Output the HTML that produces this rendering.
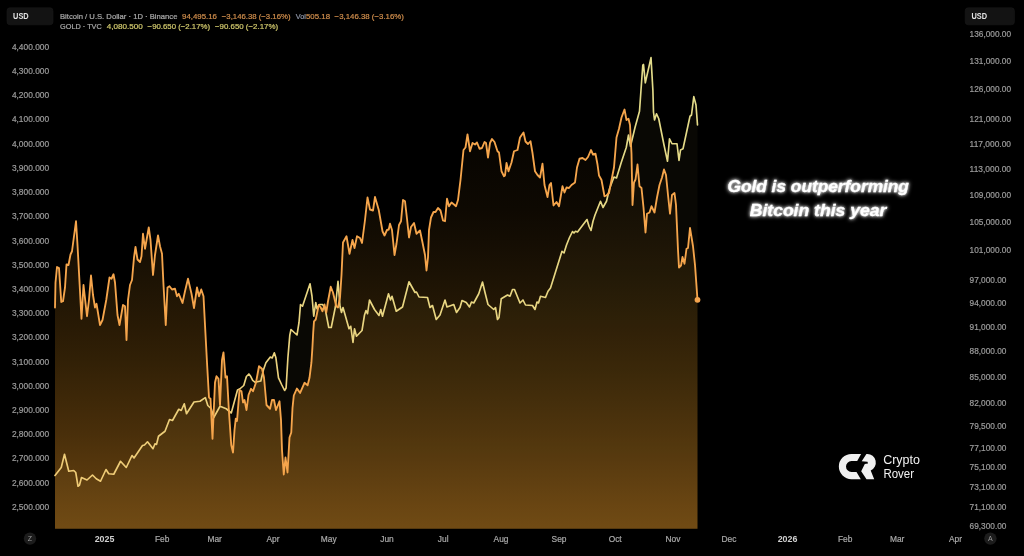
<!DOCTYPE html>
<html lang="en">
<head>
<meta charset="utf-8">
<title>Gold vs Bitcoin chart</title>
<style>
html,body{margin:0;padding:0;background:#000;}
body{width:1024px;height:556px;overflow:hidden;position:relative;font-family:"Liberation Sans", sans-serif;}
svg{position:absolute;left:0;top:0;display:block;filter:blur(0.45px);}
text{font-family:"Liberation Sans", sans-serif;}
.ax{font-size:8.3px;fill:#9c9c9c;stroke:#9c9c9c;stroke-width:0.2px;}
.mo{font-size:8.4px;fill:#a9a9a9;stroke:#a9a9a9;stroke-width:0.2px;text-anchor:middle;}
.yr{font-size:8.9px;fill:#d0d0d0;font-weight:bold;text-anchor:middle;}
.hd{font-size:8px;}
.note{font-size:17.3px;font-weight:bold;font-style:italic;fill:#fff;stroke:#fff;stroke-width:0.3px;stroke-linejoin:round;text-anchor:middle;}
.logo{font-size:12px;fill:#f2f2f2;}
</style>
</head>
<body>
<svg width="1024" height="556" viewBox="0 0 1024 556">
<defs>
<linearGradient id="gO" gradientUnits="userSpaceOnUse" x1="0" y1="60" x2="0" y2="528.8">
<stop offset="0.0000" stop-color="rgb(2,1,0)"/>
<stop offset="0.1920" stop-color="rgb(8,5,1)"/>
<stop offset="0.3200" stop-color="rgb(14,9,2)"/>
<stop offset="0.3840" stop-color="rgb(20,13,3)"/>
<stop offset="0.4544" stop-color="rgb(27,18,4)"/>
<stop offset="0.5823" stop-color="rgb(42,27,5)"/>
<stop offset="0.6399" stop-color="rgb(49,32,6)"/>
<stop offset="0.7914" stop-color="rgb(72,46,10)"/>
<stop offset="1.0000" stop-color="rgb(109,70,17)"/>
</linearGradient>
<linearGradient id="gYL" gradientUnits="userSpaceOnUse" x1="0" y1="60" x2="0" y2="480">
<stop offset="0" stop-color="#e2dc8a"/>
<stop offset="0.57" stop-color="#e8d682"/>
<stop offset="1" stop-color="#efcb76"/>
</linearGradient>
<filter id="glow" x="-20%" y="-60%" width="140%" height="220%">
<feGaussianBlur in="SourceGraphic" stdDeviation="2.3" result="b"/>
<feGaussianBlur in="SourceGraphic" stdDeviation="1" result="c0"/>
<feComponentTransfer in="c0" result="c"><feFuncA type="linear" slope="0.55"/></feComponentTransfer>
<feMerge><feMergeNode in="b"/><feMergeNode in="c"/><feMergeNode in="SourceGraphic"/></feMerge>
</filter>
</defs>
<rect width="1024" height="556" fill="#000"/>
<path d="M55.00,307.50 L55.50,282.50 L57.00,267.00 L59.00,268.00 L61.25,302.00 L63.00,301.25 L65.00,287.50 L66.50,264.50 L68.50,265.00 L70.50,254.50 L72.00,251.25 L76.00,221.25 L77.50,245.00 L81.50,318.75 L83.50,285.00 L87.00,316.25 L89.00,300.00 L91.00,275.50 L93.00,295.00 L95.00,307.50 L96.50,303.75 L100.00,325.00 L102.50,320.00 L106.25,300.00 L109.50,277.50 L111.50,278.75 L113.50,274.25 L115.00,282.50 L117.50,315.00 L119.50,325.00 L123.00,305.00 L125.00,306.25 L126.50,340.00 L128.00,300.00 L130.00,285.00 L132.00,280.00 L134.00,257.50 L135.50,247.00 L137.50,259.50 L140.00,262.00 L141.50,256.25 L143.00,233.75 L145.00,248.75 L148.75,227.50 L150.50,240.00 L153.00,275.00 L155.00,255.00 L158.00,235.50 L160.00,246.25 L162.00,253.75 L163.50,285.00 L165.75,325.00 L167.50,287.50 L169.50,286.25 L172.00,289.50 L175.00,288.75 L177.00,296.25 L178.75,293.75 L182.50,303.00 L185.00,291.25 L188.00,278.75 L191.50,293.75 L194.00,308.00 L197.00,287.50 L199.00,296.25 L201.25,289.50 L203.50,296.25 L205.00,325.00 L207.00,362.50 L209.00,397.50 L210.50,398.75 L212.50,438.75 L215.00,382.50 L216.50,376.25 L218.50,378.75 L220.00,405.00 L222.00,360.00 L223.50,352.50 L225.50,377.50 L227.00,376.25 L229.00,412.50 L231.25,445.00 L233.00,452.50 L234.50,430.00 L235.75,418.75 L237.00,421.00 L239.50,390.00 L241.50,391.25 L243.00,402.50 L244.50,400.00 L246.50,410.00 L248.50,395.00 L251.00,388.75 L253.00,391.25 L256.00,382.50 L259.00,366.25 L262.00,368.75 L264.00,377.50 L266.50,405.00 L270.00,408.75 L272.00,400.00 L274.00,400.00 L276.00,410.00 L279.50,401.25 L281.00,420.00 L282.00,450.00 L283.75,474.50 L285.50,457.50 L287.50,472.50 L289.50,437.50 L291.25,432.50 L292.50,408.00 L293.80,395.50 L296.90,388.50 L300.10,392.90 L304.50,382.80 L307.60,385.30 L309.50,377.80 L311.40,362.70 L312.40,347.60 L313.20,332.60 L314.00,321.30 L315.75,319.50 L318.75,305.00 L320.50,307.00 L322.50,311.25 L324.50,304.50 L326.25,312.50 L328.00,301.25 L330.75,286.75 L333.00,292.50 L336.25,306.25 L338.00,307.50 L340.00,297.50 L341.50,275.00 L343.00,242.50 L346.50,236.25 L349.50,253.75 L352.50,240.00 L354.50,248.00 L357.00,236.25 L360.00,238.00 L362.00,243.00 L365.00,220.00 L367.50,197.50 L370.00,209.50 L373.00,210.50 L375.00,197.00 L378.75,210.00 L382.50,231.25 L384.50,235.50 L387.00,230.00 L388.75,229.50 L390.00,223.75 L392.00,230.00 L394.50,255.00 L396.50,243.75 L399.00,225.00 L401.00,221.25 L403.00,200.00 L405.00,201.25 L407.00,218.75 L409.00,237.50 L411.00,227.00 L414.00,223.00 L416.50,233.75 L420.00,230.50 L422.50,242.50 L425.00,255.00 L426.50,270.50 L428.00,257.50 L429.00,230.00 L431.00,217.50 L433.50,212.00 L435.50,212.00 L438.00,208.00 L440.50,210.50 L443.00,220.50 L445.00,221.25 L447.00,198.75 L449.00,206.25 L451.50,202.50 L454.00,204.50 L456.00,206.25 L458.00,200.00 L460.50,180.00 L463.50,150.00 L465.50,147.50 L467.50,134.50 L470.00,151.25 L472.50,143.00 L475.00,144.50 L477.00,142.50 L479.50,148.75 L482.00,148.00 L484.50,142.00 L486.00,143.00 L488.00,157.50 L490.00,143.00 L492.00,139.00 L494.50,142.00 L497.50,151.25 L499.00,152.50 L501.50,171.25 L504.00,176.25 L505.00,175.50 L506.50,163.00 L508.50,171.25 L511.50,162.50 L514.00,151.25 L517.50,150.00 L520.00,137.50 L523.50,132.50 L525.50,141.50 L528.00,144.00 L530.50,141.25 L532.50,153.00 L535.00,171.25 L537.50,175.00 L540.00,177.50 L542.50,163.75 L544.50,185.00 L547.50,197.00 L549.50,185.00 L551.00,183.00 L553.50,205.50 L556.50,202.00 L559.00,206.25 L562.50,186.25 L564.50,192.50 L566.50,187.50 L569.00,188.00 L571.50,185.00 L575.00,182.50 L577.00,167.50 L579.50,158.75 L582.50,158.00 L585.50,160.00 L588.00,157.00 L591.00,150.00 L593.00,154.50 L595.50,153.75 L597.50,164.50 L599.00,175.50 L601.50,180.00 L604.50,196.25 L606.50,195.50 L609.00,193.00 L611.50,180.00 L614.00,167.50 L616.50,137.50 L619.00,128.75 L621.50,117.50 L624.50,109.50 L626.50,120.00 L628.50,118.75 L630.00,125.00 L631.50,153.75 L632.50,205.00 L634.00,182.50 L635.50,179.50 L637.50,164.50 L639.50,186.25 L641.50,188.00 L643.50,207.50 L645.50,232.50 L647.00,213.75 L649.50,212.50 L651.50,206.25 L654.50,212.50 L657.00,197.50 L659.50,185.00 L662.00,177.50 L664.00,169.50 L666.00,175.00 L668.00,195.00 L670.00,213.75 L672.00,195.00 L674.50,193.00 L676.00,205.00 L678.00,250.00 L679.00,267.50 L681.00,265.50 L682.50,257.00 L684.50,263.75 L686.50,248.75 L688.00,248.00 L690.00,228.00 L693.00,246.25 L695.00,265.00 L697.50,300.00 L697.50,528.8 L55.00,528.8 Z" fill="url(#gO)"/>
<path d="M55.00,475.50 L61.25,467.50 L64.50,454.25 L68.75,471.25 L73.75,470.50 L75.75,472.50 L78.00,486.25 L79.50,485.00 L81.50,477.50 L87.00,480.00 L92.50,475.00 L96.25,478.75 L100.50,481.25 L106.00,469.50 L108.75,473.75 L113.75,474.25 L120.50,461.25 L126.25,467.50 L132.00,455.50 L134.00,458.00 L142.50,445.50 L144.50,445.00 L147.50,441.75 L153.00,448.75 L155.00,443.75 L156.50,444.50 L158.50,436.25 L165.00,431.25 L169.50,419.50 L172.50,420.50 L178.75,409.25 L181.25,410.50 L184.25,403.75 L186.50,413.75 L194.00,402.00 L200.00,401.25 L205.30,397.60 L207.80,405.50 L211.25,408.75 L213.75,417.50 L220.00,406.25 L226.25,408.75 L231.25,413.00 L237.50,390.00 L240.00,388.75 L243.75,385.50 L246.40,376.50 L248.90,374.00 L250.80,376.60 L252.70,380.40 L255.20,382.30 L260.80,381.00 L263.40,370.00 L265.90,362.80 L270.30,357.10 L272.20,358.00 L274.30,352.80 L275.90,357.80 L278.50,377.90 L281.60,384.50 L284.60,390.50 L286.10,388.00 L287.90,357.80 L289.80,335.10 L291.00,329.50 L297.00,335.00 L299.00,322.50 L300.50,304.50 L302.50,306.25 L310.00,283.75 L312.00,296.25 L313.75,316.25 L315.75,302.50 L317.00,308.75 L319.50,304.50 L322.50,304.50 L325.00,308.00 L328.75,327.50 L331.25,327.50 L335.50,306.25 L338.00,281.25 L340.00,306.25 L341.50,312.50 L343.00,307.50 L345.50,316.25 L349.00,328.75 L350.75,326.25 L353.00,342.50 L354.50,328.75 L356.50,336.25 L362.00,330.50 L364.50,315.00 L366.00,310.50 L367.50,313.75 L369.50,300.00 L374.50,309.50 L379.00,315.50 L380.75,309.50 L382.50,316.25 L388.50,293.75 L390.50,300.00 L392.00,296.25 L396.25,311.25 L402.50,307.00 L409.00,281.75 L415.00,292.50 L416.50,292.00 L419.00,297.00 L427.50,297.50 L430.00,307.50 L432.50,305.50 L436.25,319.50 L440.00,315.00 L445.00,300.00 L447.00,307.00 L453.75,304.50 L456.50,312.50 L460.00,307.50 L462.00,300.50 L466.25,302.50 L469.50,307.00 L471.50,302.00 L473.75,303.00 L478.75,293.75 L482.50,282.00 L485.00,292.50 L488.00,304.50 L493.75,309.50 L495.50,307.50 L497.50,319.50 L499.00,317.50 L501.25,298.75 L507.50,295.00 L510.00,296.25 L512.50,289.50 L514.50,289.50 L520.00,303.00 L523.00,300.00 L525.50,305.00 L532.50,305.50 L535.00,309.50 L537.00,302.00 L538.50,303.00 L540.50,296.25 L545.50,297.50 L548.00,291.25 L550.50,288.00 L562.00,251.25 L564.00,253.00 L566.50,245.00 L569.50,237.50 L572.50,231.50 L574.00,233.00 L575.50,231.25 L577.50,232.00 L587.00,219.50 L589.00,226.25 L591.00,230.50 L593.00,221.25 L595.00,215.00 L600.50,201.25 L603.00,207.50 L606.50,201.25 L609.50,188.75 L614.00,177.00 L616.50,178.00 L621.25,162.50 L626.25,147.50 L628.50,135.00 L630.50,146.25 L635.00,127.50 L639.50,111.25 L641.00,90.00 L642.80,65.20 L643.50,64.50 L645.30,82.80 L651.00,57.60 L652.90,90.40 L653.50,112.00 L654.50,120.00 L656.50,113.75 L658.75,118.75 L663.75,143.75 L667.50,161.25 L669.50,138.75 L672.00,143.75 L677.00,143.75 L679.00,160.50 L680.50,150.00 L683.00,148.75 L690.00,116.25 L691.50,115.00 L693.80,96.60 L696.00,105.00 L697.50,125.00 L697.50,528.8 L55.00,528.8 Z" fill="rgb(225,205,110)" fill-opacity="0.04"/>
<path d="M55.00,475.50 L61.25,467.50 L64.50,454.25 L68.75,471.25 L73.75,470.50 L75.75,472.50 L78.00,486.25 L79.50,485.00 L81.50,477.50 L87.00,480.00 L92.50,475.00 L96.25,478.75 L100.50,481.25 L106.00,469.50 L108.75,473.75 L113.75,474.25 L120.50,461.25 L126.25,467.50 L132.00,455.50 L134.00,458.00 L142.50,445.50 L144.50,445.00 L147.50,441.75 L153.00,448.75 L155.00,443.75 L156.50,444.50 L158.50,436.25 L165.00,431.25 L169.50,419.50 L172.50,420.50 L178.75,409.25 L181.25,410.50 L184.25,403.75 L186.50,413.75 L194.00,402.00 L200.00,401.25 L205.30,397.60 L207.80,405.50 L211.25,408.75 L213.75,417.50 L220.00,406.25 L226.25,408.75 L231.25,413.00 L237.50,390.00 L240.00,388.75 L243.75,385.50 L246.40,376.50 L248.90,374.00 L250.80,376.60 L252.70,380.40 L255.20,382.30 L260.80,381.00 L263.40,370.00 L265.90,362.80 L270.30,357.10 L272.20,358.00 L274.30,352.80 L275.90,357.80 L278.50,377.90 L281.60,384.50 L284.60,390.50 L286.10,388.00 L287.90,357.80 L289.80,335.10 L291.00,329.50 L297.00,335.00 L299.00,322.50 L300.50,304.50 L302.50,306.25 L310.00,283.75 L312.00,296.25 L313.75,316.25 L315.75,302.50 L317.00,308.75 L319.50,304.50 L322.50,304.50 L325.00,308.00 L328.75,327.50 L331.25,327.50 L335.50,306.25 L338.00,281.25 L340.00,306.25 L341.50,312.50 L343.00,307.50 L345.50,316.25 L349.00,328.75 L350.75,326.25 L353.00,342.50 L354.50,328.75 L356.50,336.25 L362.00,330.50 L364.50,315.00 L366.00,310.50 L367.50,313.75 L369.50,300.00 L374.50,309.50 L379.00,315.50 L380.75,309.50 L382.50,316.25 L388.50,293.75 L390.50,300.00 L392.00,296.25 L396.25,311.25 L402.50,307.00 L409.00,281.75 L415.00,292.50 L416.50,292.00 L419.00,297.00 L427.50,297.50 L430.00,307.50 L432.50,305.50 L436.25,319.50 L440.00,315.00 L445.00,300.00 L447.00,307.00 L453.75,304.50 L456.50,312.50 L460.00,307.50 L462.00,300.50 L466.25,302.50 L469.50,307.00 L471.50,302.00 L473.75,303.00 L478.75,293.75 L482.50,282.00 L485.00,292.50 L488.00,304.50 L493.75,309.50 L495.50,307.50 L497.50,319.50 L499.00,317.50 L501.25,298.75 L507.50,295.00 L510.00,296.25 L512.50,289.50 L514.50,289.50 L520.00,303.00 L523.00,300.00 L525.50,305.00 L532.50,305.50 L535.00,309.50 L537.00,302.00 L538.50,303.00 L540.50,296.25 L545.50,297.50 L548.00,291.25 L550.50,288.00 L562.00,251.25 L564.00,253.00 L566.50,245.00 L569.50,237.50 L572.50,231.50 L574.00,233.00 L575.50,231.25 L577.50,232.00 L587.00,219.50 L589.00,226.25 L591.00,230.50 L593.00,221.25 L595.00,215.00 L600.50,201.25 L603.00,207.50 L606.50,201.25 L609.50,188.75 L614.00,177.00 L616.50,178.00 L621.25,162.50 L626.25,147.50 L628.50,135.00 L630.50,146.25 L635.00,127.50 L639.50,111.25 L641.00,90.00 L642.80,65.20 L643.50,64.50 L645.30,82.80 L651.00,57.60 L652.90,90.40 L653.50,112.00 L654.50,120.00 L656.50,113.75 L658.75,118.75 L663.75,143.75 L667.50,161.25 L669.50,138.75 L672.00,143.75 L677.00,143.75 L679.00,160.50 L680.50,150.00 L683.00,148.75 L690.00,116.25 L691.50,115.00 L693.80,96.60 L696.00,105.00 L697.50,125.00" fill="none" stroke="url(#gYL)" stroke-width="1.65" stroke-linejoin="round" stroke-linecap="round"/>
<path d="M55.00,307.50 L55.50,282.50 L57.00,267.00 L59.00,268.00 L61.25,302.00 L63.00,301.25 L65.00,287.50 L66.50,264.50 L68.50,265.00 L70.50,254.50 L72.00,251.25 L76.00,221.25 L77.50,245.00 L81.50,318.75 L83.50,285.00 L87.00,316.25 L89.00,300.00 L91.00,275.50 L93.00,295.00 L95.00,307.50 L96.50,303.75 L100.00,325.00 L102.50,320.00 L106.25,300.00 L109.50,277.50 L111.50,278.75 L113.50,274.25 L115.00,282.50 L117.50,315.00 L119.50,325.00 L123.00,305.00 L125.00,306.25 L126.50,340.00 L128.00,300.00 L130.00,285.00 L132.00,280.00 L134.00,257.50 L135.50,247.00 L137.50,259.50 L140.00,262.00 L141.50,256.25 L143.00,233.75 L145.00,248.75 L148.75,227.50 L150.50,240.00 L153.00,275.00 L155.00,255.00 L158.00,235.50 L160.00,246.25 L162.00,253.75 L163.50,285.00 L165.75,325.00 L167.50,287.50 L169.50,286.25 L172.00,289.50 L175.00,288.75 L177.00,296.25 L178.75,293.75 L182.50,303.00 L185.00,291.25 L188.00,278.75 L191.50,293.75 L194.00,308.00 L197.00,287.50 L199.00,296.25 L201.25,289.50 L203.50,296.25 L205.00,325.00 L207.00,362.50 L209.00,397.50 L210.50,398.75 L212.50,438.75 L215.00,382.50 L216.50,376.25 L218.50,378.75 L220.00,405.00 L222.00,360.00 L223.50,352.50 L225.50,377.50 L227.00,376.25 L229.00,412.50 L231.25,445.00 L233.00,452.50 L234.50,430.00 L235.75,418.75 L237.00,421.00 L239.50,390.00 L241.50,391.25 L243.00,402.50 L244.50,400.00 L246.50,410.00 L248.50,395.00 L251.00,388.75 L253.00,391.25 L256.00,382.50 L259.00,366.25 L262.00,368.75 L264.00,377.50 L266.50,405.00 L270.00,408.75 L272.00,400.00 L274.00,400.00 L276.00,410.00 L279.50,401.25 L281.00,420.00 L282.00,450.00 L283.75,474.50 L285.50,457.50 L287.50,472.50 L289.50,437.50 L291.25,432.50 L292.50,408.00 L293.80,395.50 L296.90,388.50 L300.10,392.90 L304.50,382.80 L307.60,385.30 L309.50,377.80 L311.40,362.70 L312.40,347.60 L313.20,332.60 L314.00,321.30 L315.75,319.50 L318.75,305.00 L320.50,307.00 L322.50,311.25 L324.50,304.50 L326.25,312.50 L328.00,301.25 L330.75,286.75 L333.00,292.50 L336.25,306.25 L338.00,307.50 L340.00,297.50 L341.50,275.00 L343.00,242.50 L346.50,236.25 L349.50,253.75 L352.50,240.00 L354.50,248.00 L357.00,236.25 L360.00,238.00 L362.00,243.00 L365.00,220.00 L367.50,197.50 L370.00,209.50 L373.00,210.50 L375.00,197.00 L378.75,210.00 L382.50,231.25 L384.50,235.50 L387.00,230.00 L388.75,229.50 L390.00,223.75 L392.00,230.00 L394.50,255.00 L396.50,243.75 L399.00,225.00 L401.00,221.25 L403.00,200.00 L405.00,201.25 L407.00,218.75 L409.00,237.50 L411.00,227.00 L414.00,223.00 L416.50,233.75 L420.00,230.50 L422.50,242.50 L425.00,255.00 L426.50,270.50 L428.00,257.50 L429.00,230.00 L431.00,217.50 L433.50,212.00 L435.50,212.00 L438.00,208.00 L440.50,210.50 L443.00,220.50 L445.00,221.25 L447.00,198.75 L449.00,206.25 L451.50,202.50 L454.00,204.50 L456.00,206.25 L458.00,200.00 L460.50,180.00 L463.50,150.00 L465.50,147.50 L467.50,134.50 L470.00,151.25 L472.50,143.00 L475.00,144.50 L477.00,142.50 L479.50,148.75 L482.00,148.00 L484.50,142.00 L486.00,143.00 L488.00,157.50 L490.00,143.00 L492.00,139.00 L494.50,142.00 L497.50,151.25 L499.00,152.50 L501.50,171.25 L504.00,176.25 L505.00,175.50 L506.50,163.00 L508.50,171.25 L511.50,162.50 L514.00,151.25 L517.50,150.00 L520.00,137.50 L523.50,132.50 L525.50,141.50 L528.00,144.00 L530.50,141.25 L532.50,153.00 L535.00,171.25 L537.50,175.00 L540.00,177.50 L542.50,163.75 L544.50,185.00 L547.50,197.00 L549.50,185.00 L551.00,183.00 L553.50,205.50 L556.50,202.00 L559.00,206.25 L562.50,186.25 L564.50,192.50 L566.50,187.50 L569.00,188.00 L571.50,185.00 L575.00,182.50 L577.00,167.50 L579.50,158.75 L582.50,158.00 L585.50,160.00 L588.00,157.00 L591.00,150.00 L593.00,154.50 L595.50,153.75 L597.50,164.50 L599.00,175.50 L601.50,180.00 L604.50,196.25 L606.50,195.50 L609.00,193.00 L611.50,180.00 L614.00,167.50 L616.50,137.50 L619.00,128.75 L621.50,117.50 L624.50,109.50 L626.50,120.00 L628.50,118.75 L630.00,125.00 L631.50,153.75 L632.50,205.00 L634.00,182.50 L635.50,179.50 L637.50,164.50 L639.50,186.25 L641.50,188.00 L643.50,207.50 L645.50,232.50 L647.00,213.75 L649.50,212.50 L651.50,206.25 L654.50,212.50 L657.00,197.50 L659.50,185.00 L662.00,177.50 L664.00,169.50 L666.00,175.00 L668.00,195.00 L670.00,213.75 L672.00,195.00 L674.50,193.00 L676.00,205.00 L678.00,250.00 L679.00,267.50 L681.00,265.50 L682.50,257.00 L684.50,263.75 L686.50,248.75 L688.00,248.00 L690.00,228.00 L693.00,246.25 L695.00,265.00 L697.50,300.00" fill="none" stroke="#f5a54c" stroke-width="1.85" stroke-linejoin="round" stroke-linecap="round"/>
<circle cx="697.5" cy="299.8" r="2.9" fill="#f4a44e"/>
<rect x="7" y="7.8" width="46" height="17" rx="3" fill="#131313" stroke="#191919" stroke-width="0.6"/>
<text x="13.1" y="19.3" textLength="15.6" lengthAdjust="spacingAndGlyphs" style="font-size:8.2px;fill:#e2e2e2;font-weight:bold">USD</text>
<rect x="965.2" y="7.8" width="49.2" height="17" rx="3" fill="#131313" stroke="#191919" stroke-width="0.6"/>
<text x="971.5" y="19.3" textLength="15.6" lengthAdjust="spacingAndGlyphs" style="font-size:8.2px;fill:#e2e2e2;font-weight:bold">USD</text>
<text class="hd" x="60" y="18.6" textLength="117.4" lengthAdjust="spacingAndGlyphs" fill="#a8a8a8" stroke="#a8a8a8" stroke-width="0.22">Bitcoin / U.S. Dollar · 1D · Binance</text>
<text class="hd" x="182" y="18.6" textLength="35" lengthAdjust="spacingAndGlyphs" fill="#cf8d4c" stroke="#cf8d4c" stroke-width="0.22">94,495.16</text>
<text class="hd" x="221.8" y="18.6" textLength="68.7" lengthAdjust="spacingAndGlyphs" fill="#cf8d4c" stroke="#cf8d4c" stroke-width="0.22">−3,146.38 (−3.16%)</text>
<text class="hd" x="295.8" y="18.6" textLength="10.2" lengthAdjust="spacingAndGlyphs" fill="#9097a8" stroke="#9097a8" stroke-width="0.22">Vol</text>
<text class="hd" x="306" y="18.6" textLength="24" lengthAdjust="spacingAndGlyphs" fill="#cf8d4c" stroke="#cf8d4c" stroke-width="0.22">505.18</text>
<text class="hd" x="334.6" y="18.6" textLength="69.3" lengthAdjust="spacingAndGlyphs" fill="#cf8d4c" stroke="#cf8d4c" stroke-width="0.22">−3,146.38 (−3.16%)</text>
<text class="hd" x="60" y="29.1" textLength="41.8" lengthAdjust="spacingAndGlyphs" fill="#a8a8a8" stroke="#a8a8a8" stroke-width="0.22">GOLD · TVC</text>
<text class="hd" x="106.8" y="29.1" textLength="36" lengthAdjust="spacingAndGlyphs" fill="#cfc76c" stroke="#cfc76c" stroke-width="0.22">4,080.500</text>
<text class="hd" x="147.6" y="29.1" textLength="62.4" lengthAdjust="spacingAndGlyphs" fill="#cfc76c" stroke="#cfc76c" stroke-width="0.22">−90.650 (−2.17%)</text>
<text class="hd" x="215" y="29.1" textLength="63" lengthAdjust="spacingAndGlyphs" fill="#cfc76c" stroke="#cfc76c" stroke-width="0.22">−90.650 (−2.17%)</text>
<text class="ax" x="11.9" y="49.80" textLength="37.2" lengthAdjust="spacingAndGlyphs">4,400.000</text>
<text class="ax" x="11.9" y="74.02" textLength="37.2" lengthAdjust="spacingAndGlyphs">4,300.000</text>
<text class="ax" x="11.9" y="98.23" textLength="37.2" lengthAdjust="spacingAndGlyphs">4,200.000</text>
<text class="ax" x="11.9" y="122.45" textLength="37.2" lengthAdjust="spacingAndGlyphs">4,100.000</text>
<text class="ax" x="11.9" y="146.66" textLength="37.2" lengthAdjust="spacingAndGlyphs">4,000.000</text>
<text class="ax" x="11.9" y="170.88" textLength="37.2" lengthAdjust="spacingAndGlyphs">3,900.000</text>
<text class="ax" x="11.9" y="195.09" textLength="37.2" lengthAdjust="spacingAndGlyphs">3,800.000</text>
<text class="ax" x="11.9" y="219.31" textLength="37.2" lengthAdjust="spacingAndGlyphs">3,700.000</text>
<text class="ax" x="11.9" y="243.53" textLength="37.2" lengthAdjust="spacingAndGlyphs">3,600.000</text>
<text class="ax" x="11.9" y="267.74" textLength="37.2" lengthAdjust="spacingAndGlyphs">3,500.000</text>
<text class="ax" x="11.9" y="291.96" textLength="37.2" lengthAdjust="spacingAndGlyphs">3,400.000</text>
<text class="ax" x="11.9" y="316.17" textLength="37.2" lengthAdjust="spacingAndGlyphs">3,300.000</text>
<text class="ax" x="11.9" y="340.39" textLength="37.2" lengthAdjust="spacingAndGlyphs">3,200.000</text>
<text class="ax" x="11.9" y="364.61" textLength="37.2" lengthAdjust="spacingAndGlyphs">3,100.000</text>
<text class="ax" x="11.9" y="388.82" textLength="37.2" lengthAdjust="spacingAndGlyphs">3,000.000</text>
<text class="ax" x="11.9" y="413.04" textLength="37.2" lengthAdjust="spacingAndGlyphs">2,900.000</text>
<text class="ax" x="11.9" y="437.25" textLength="37.2" lengthAdjust="spacingAndGlyphs">2,800.000</text>
<text class="ax" x="11.9" y="461.47" textLength="37.2" lengthAdjust="spacingAndGlyphs">2,700.000</text>
<text class="ax" x="11.9" y="485.68" textLength="37.2" lengthAdjust="spacingAndGlyphs">2,600.000</text>
<text class="ax" x="11.9" y="509.90" textLength="37.2" lengthAdjust="spacingAndGlyphs">2,500.000</text>
<text class="ax" x="969.6" y="37.20" textLength="41.4" lengthAdjust="spacingAndGlyphs">136,000.00</text>
<text class="ax" x="969.6" y="64.20" textLength="41.4" lengthAdjust="spacingAndGlyphs">131,000.00</text>
<text class="ax" x="969.6" y="92.20" textLength="41.4" lengthAdjust="spacingAndGlyphs">126,000.00</text>
<text class="ax" x="969.6" y="121.70" textLength="41.4" lengthAdjust="spacingAndGlyphs">121,000.00</text>
<text class="ax" x="969.6" y="146.70" textLength="41.4" lengthAdjust="spacingAndGlyphs">117,000.00</text>
<text class="ax" x="969.6" y="171.70" textLength="41.4" lengthAdjust="spacingAndGlyphs">113,000.00</text>
<text class="ax" x="969.6" y="198.20" textLength="41.4" lengthAdjust="spacingAndGlyphs">109,000.00</text>
<text class="ax" x="969.6" y="225.20" textLength="41.4" lengthAdjust="spacingAndGlyphs">105,000.00</text>
<text class="ax" x="969.6" y="253.20" textLength="41.4" lengthAdjust="spacingAndGlyphs">101,000.00</text>
<text class="ax" x="969.6" y="283.20" textLength="36.8" lengthAdjust="spacingAndGlyphs">97,000.00</text>
<text class="ax" x="969.6" y="306.20" textLength="36.8" lengthAdjust="spacingAndGlyphs">94,000.00</text>
<text class="ax" x="969.6" y="330.20" textLength="36.8" lengthAdjust="spacingAndGlyphs">91,000.00</text>
<text class="ax" x="969.6" y="354.20" textLength="36.8" lengthAdjust="spacingAndGlyphs">88,000.00</text>
<text class="ax" x="969.6" y="379.70" textLength="36.8" lengthAdjust="spacingAndGlyphs">85,000.00</text>
<text class="ax" x="969.6" y="405.70" textLength="36.8" lengthAdjust="spacingAndGlyphs">82,000.00</text>
<text class="ax" x="969.6" y="428.70" textLength="36.8" lengthAdjust="spacingAndGlyphs">79,500.00</text>
<text class="ax" x="969.6" y="451.20" textLength="36.8" lengthAdjust="spacingAndGlyphs">77,100.00</text>
<text class="ax" x="969.6" y="470.20" textLength="36.8" lengthAdjust="spacingAndGlyphs">75,100.00</text>
<text class="ax" x="969.6" y="489.70" textLength="36.8" lengthAdjust="spacingAndGlyphs">73,100.00</text>
<text class="ax" x="969.6" y="510.20" textLength="36.8" lengthAdjust="spacingAndGlyphs">71,100.00</text>
<text class="ax" x="969.6" y="528.90" textLength="36.8" lengthAdjust="spacingAndGlyphs">69,300.00</text>
<text class="yr" x="104.5" y="541.7">2025</text>
<text class="mo" x="162.2" y="541.5">Feb</text>
<text class="mo" x="214.7" y="541.5">Mar</text>
<text class="mo" x="273" y="541.5">Apr</text>
<text class="mo" x="328.7" y="541.5">May</text>
<text class="mo" x="387" y="541.5">Jun</text>
<text class="mo" x="443.2" y="541.5">Jul</text>
<text class="mo" x="501" y="541.5">Aug</text>
<text class="mo" x="559" y="541.5">Sep</text>
<text class="mo" x="615.2" y="541.5">Oct</text>
<text class="mo" x="673" y="541.5">Nov</text>
<text class="mo" x="729" y="541.5">Dec</text>
<text class="yr" x="787.5" y="541.7">2026</text>
<text class="mo" x="845.2" y="541.5">Feb</text>
<text class="mo" x="897.2" y="541.5">Mar</text>
<text class="mo" x="955.5" y="541.5">Apr</text>
<circle cx="30" cy="538.6" r="6.2" fill="#1c1c1c"/><text x="30" y="541.2" style="font-size:7px;fill:#9a9a9a;text-anchor:middle">Z</text>
<circle cx="990.4" cy="538.6" r="6.2" fill="#1c1c1c"/><text x="990.4" y="541.2" style="font-size:7px;fill:#9a9a9a;text-anchor:middle">A</text>
<g filter="url(#glow)"><text class="note" x="818.2" y="192.4" textLength="181.5" lengthAdjust="spacingAndGlyphs">Gold is outperforming</text><text class="note" x="818" y="215.5" textLength="136.5" lengthAdjust="spacingAndGlyphs">Bitcoin this year</text></g>
<g id="logo" fill="#f0f0f0">
<path d="M851.5,453.9 H861.1 L857.2,461.1 H851.4 A5.4,5.4 0 0 0 851.4,471.9 H856.5 L860.8,479.2 H851.5 A12.65,12.65 0 0 1 851.5,453.9 Z"/>
<path d="M866.4,453.9 H867.2 A8.4,8.7 0 0 1 870.7,470.6 L874.2,479.2 H866.5 L861.2,471.3 L864.8,463.9 L868.0,463.6 L867.5,461.7 L861.7,461.3 Z"/>
</g>
<text class="logo" x="883.2" y="464.1" textLength="36.8" lengthAdjust="spacingAndGlyphs">Crypto</text>
<text class="logo" x="883.4" y="477.7" textLength="30.6" lengthAdjust="spacingAndGlyphs">Rover</text>
</svg>
</body>
</html>
